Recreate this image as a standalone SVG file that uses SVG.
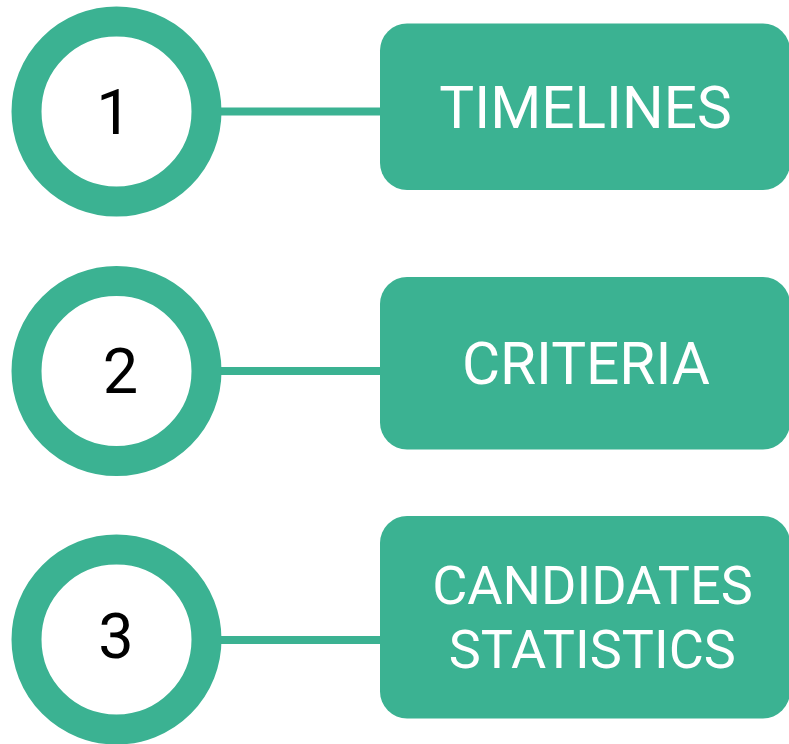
<svg xmlns="http://www.w3.org/2000/svg" width="789" height="744" viewBox="0 0 789 744">
<style>
.ring{fill:#ffffff;stroke:#3bb292;stroke-width:30}
.box{fill:#3bb292}
.num{font-family:Roboto,"Liberation Sans",sans-serif;font-size:63px;fill:#000000;text-anchor:middle}
.lbl{font-family:Roboto,"Liberation Sans",sans-serif;font-size:58.5px;fill:#ffffff;text-anchor:middle}
.lbl2{font-family:Roboto,"Liberation Sans",sans-serif;font-size:54px;fill:#ffffff;text-anchor:middle}
.conn{stroke:#3bb292;stroke-width:8;fill:none}
</style>
<rect width="789" height="744" fill="#ffffff"/>
<g id="connectors">
<line class="conn" x1="220" y1="111.5" x2="384" y2="111.5"/>
<line class="conn" x1="220" y1="371" x2="384" y2="371"/>
<line class="conn" x1="220" y1="640" x2="384" y2="640"/>
</g>
<g id="circle1"><circle class="ring" cx="116.5" cy="111.5" r="90"/><text class="num" x="114" y="134.3">1</text></g>
<g id="circle2"><circle class="ring" cx="116.5" cy="371" r="90"/><text class="num" x="120.5" y="392.5">2</text></g>
<g id="circle3"><circle class="ring" cx="116.5" cy="639.5" r="90"/><text class="num" x="116" y="657.5">3</text></g>
<g id="box1"><rect class="box" x="380" y="23.5" width="410" height="166.5" rx="27"/><text class="lbl" x="585.5" y="127.7">TIMELINES</text></g>
<g id="box2"><rect class="box" x="380" y="277" width="410" height="172.5" rx="27"/><text class="lbl" x="586" y="384.3">CRITERIA</text></g>
<g id="box3"><rect class="box" x="380" y="516" width="410" height="202.5" rx="27"/><text class="lbl2" x="592.5" y="604.3">CANDIDATES</text><text class="lbl2" x="592.3" y="667.7">STATISTICS</text></g>
</svg>
